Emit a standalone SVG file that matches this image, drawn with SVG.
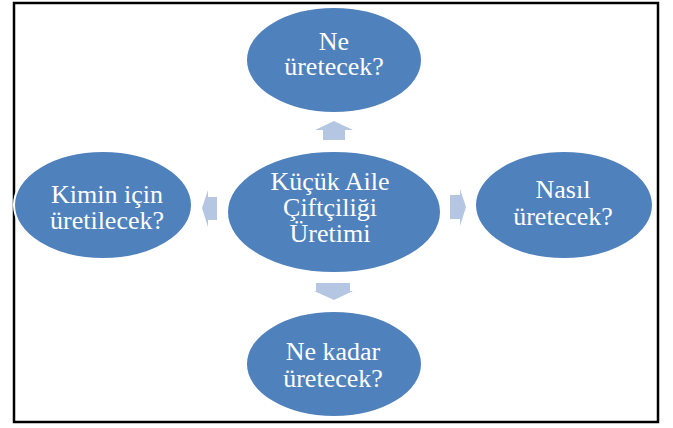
<svg xmlns="http://www.w3.org/2000/svg" width="673" height="428" viewBox="0 0 673 428">
<style>
.node{fill:#4f81bd;stroke:#ffffff;stroke-width:2}
.lbl{font-family:"Liberation Serif","Times New Roman",serif;font-size:26px;fill:#ffffff;text-anchor:middle}
.arr{fill:#b4c6e2}
</style>
<rect x="0" y="0" width="673" height="428" fill="#ffffff"/>
<rect x="14" y="3" width="644" height="419" fill="none" stroke="#000000" stroke-width="2.5"/>
<g id="connectors">
<polygon class="arr" points="334,121 353,130 345,130 345,140 323,140 323,130 315,130"/>
<polygon class="arr" points="334,300 353,291 350,291 350,283 316,283 316,291 314,291"/>
<polygon class="arr" points="202,208 208,190 208,197 217,197 217,220 208,220 208,227"/>
<polygon class="arr" points="466,207 460,189 460,195 450,195 450,219 460,219 460,226"/>
</g>
<g id="top">
<ellipse class="node" cx="334" cy="60" rx="88" ry="53"/>
<text class="lbl" x="334" y="50">Ne</text>
<text class="lbl" x="334" y="75">üretecek?</text>
</g>
<g id="center">
<ellipse class="node" cx="334" cy="212" rx="107" ry="61"/>
<text class="lbl" x="330" y="190">Küçük Aile</text>
<text class="lbl" x="330" y="216">Çiftçiliği</text>
<text class="lbl" x="330" y="242">Üretimi</text>
</g>
<g id="left">
<ellipse class="node" cx="103" cy="205" rx="89" ry="54"/>
<text class="lbl" x="107" y="203">Kimin için</text>
<text class="lbl" x="107" y="229">üretilecek?</text>
</g>
<g id="right">
<ellipse class="node" cx="564" cy="205" rx="89" ry="54"/>
<text class="lbl" x="563" y="198">Nasıl</text>
<text class="lbl" x="563" y="225">üretecek?</text>
</g>
<g id="bottom">
<ellipse class="node" cx="334" cy="364" rx="88" ry="53"/>
<text class="lbl" x="333" y="360">Ne kadar</text>
<text class="lbl" x="333" y="387">üretecek?</text>
</g>
</svg>
